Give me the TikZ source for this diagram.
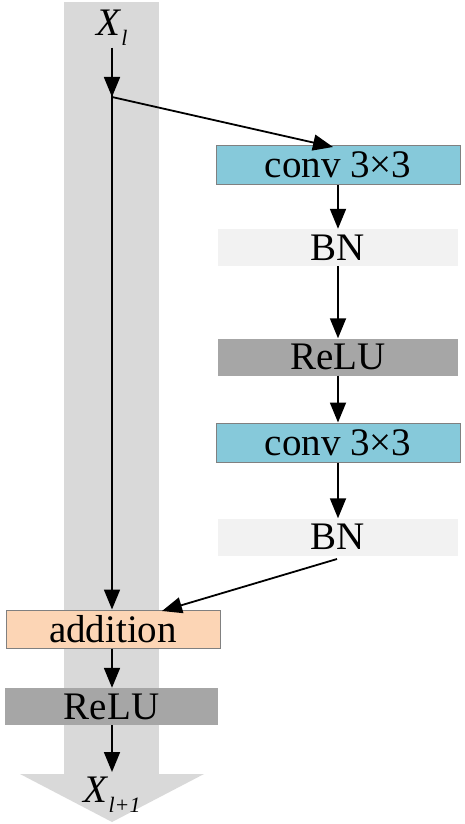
\documentclass[tikz,border=0pt]{standalone}
\usepackage{fontspec}
\setmainfont{Liberation Serif}
\usetikzlibrary{arrows.meta}
\definecolor{band}{HTML}{D9D9D9}
\definecolor{convc}{HTML}{86C9DA}
\definecolor{bnc}{HTML}{F2F2F2}
\definecolor{reluc}{HTML}{A6A6A6}
\definecolor{addc}{HTML}{FCD5B5}
\tikzset{
  blk/.style={inner sep=0pt, font=\fontsize{39}{41}\selectfont, text=black},
  convbox/.style={blk, fill=convc, draw=gray, line width=1pt, minimum width=244pt, minimum height=39pt},
  bnbox/.style={blk, fill=bnc, minimum width=240pt, minimum height=37pt},
  relubox/.style={blk, fill=reluc, minimum width=240pt, minimum height=37pt},
  addbox/.style={blk, fill=addc, draw=gray, line width=1pt, minimum width=214pt, minimum height=38pt},
  arr/.style={line width=1.8pt, -{Triangle[length=20pt,width=16pt]}},
  ln/.style={line width=1.8pt},
}
\begin{document}
\begin{tikzpicture}[x=1pt,y=-1pt]
\useasboundingbox (0,0) rectangle (464,824);
% gray band
\fill[band] (64,2) rectangle (159,774);
\fill[band] (20,774) -- (204,774) -- (112,822) -- cycle;
% nodes
\node[blk] (xl) at (112,28) {\textit{X}\raisebox{-0.25em}{\fontsize{22}{24}\selectfont\textit{l}}};
\coordinate (split) at (112,97);
\node[convbox] (c1) at (338,165) {conv 3×3};
\node[bnbox] (b1) at (338,247.5) {BN};
\node[relubox] (r1) at (338,357) {ReLU};
\node[convbox] (c2) at (338,442.5) {conv 3×3};
\node[bnbox] (b2) at (338,537) {BN};
\node[addbox] (add) at (113,629) {addition};
\node[relubox, minimum width=213pt] (r2) at (111.5,706.5) {ReLU};
\node[blk] (xo) at (112,795) {\textit{X}\raisebox{-0.25em}{\fontsize{22}{24}\selectfont\textit{l+1}}};
\coordinate (c1in) at (333,147);
\coordinate (b2out) at (337,559);
\coordinate (addin) at (162,611);
% connectors
\draw[ln] (112,48) -- (split);
\draw[arr] (112,48) -- (112,97);
\draw[arr] (split) -- (c1in);
\draw[arr] (split) -- (add.north -| split);
\draw[arr] (c1.south) -- (b1.north);
\draw[arr] (b1.south) -- (r1.north);
\draw[arr] (r1.south) -- (c2.north);
\draw[arr] (c2.south) -- (b2.north);
\draw[arr] (b2out) -- (addin);
\draw[arr] (add.south -| split) -- (r2.north -| split);
\draw[arr] (r2.south -| split) -- (112,772);
\end{tikzpicture}
\end{document}
